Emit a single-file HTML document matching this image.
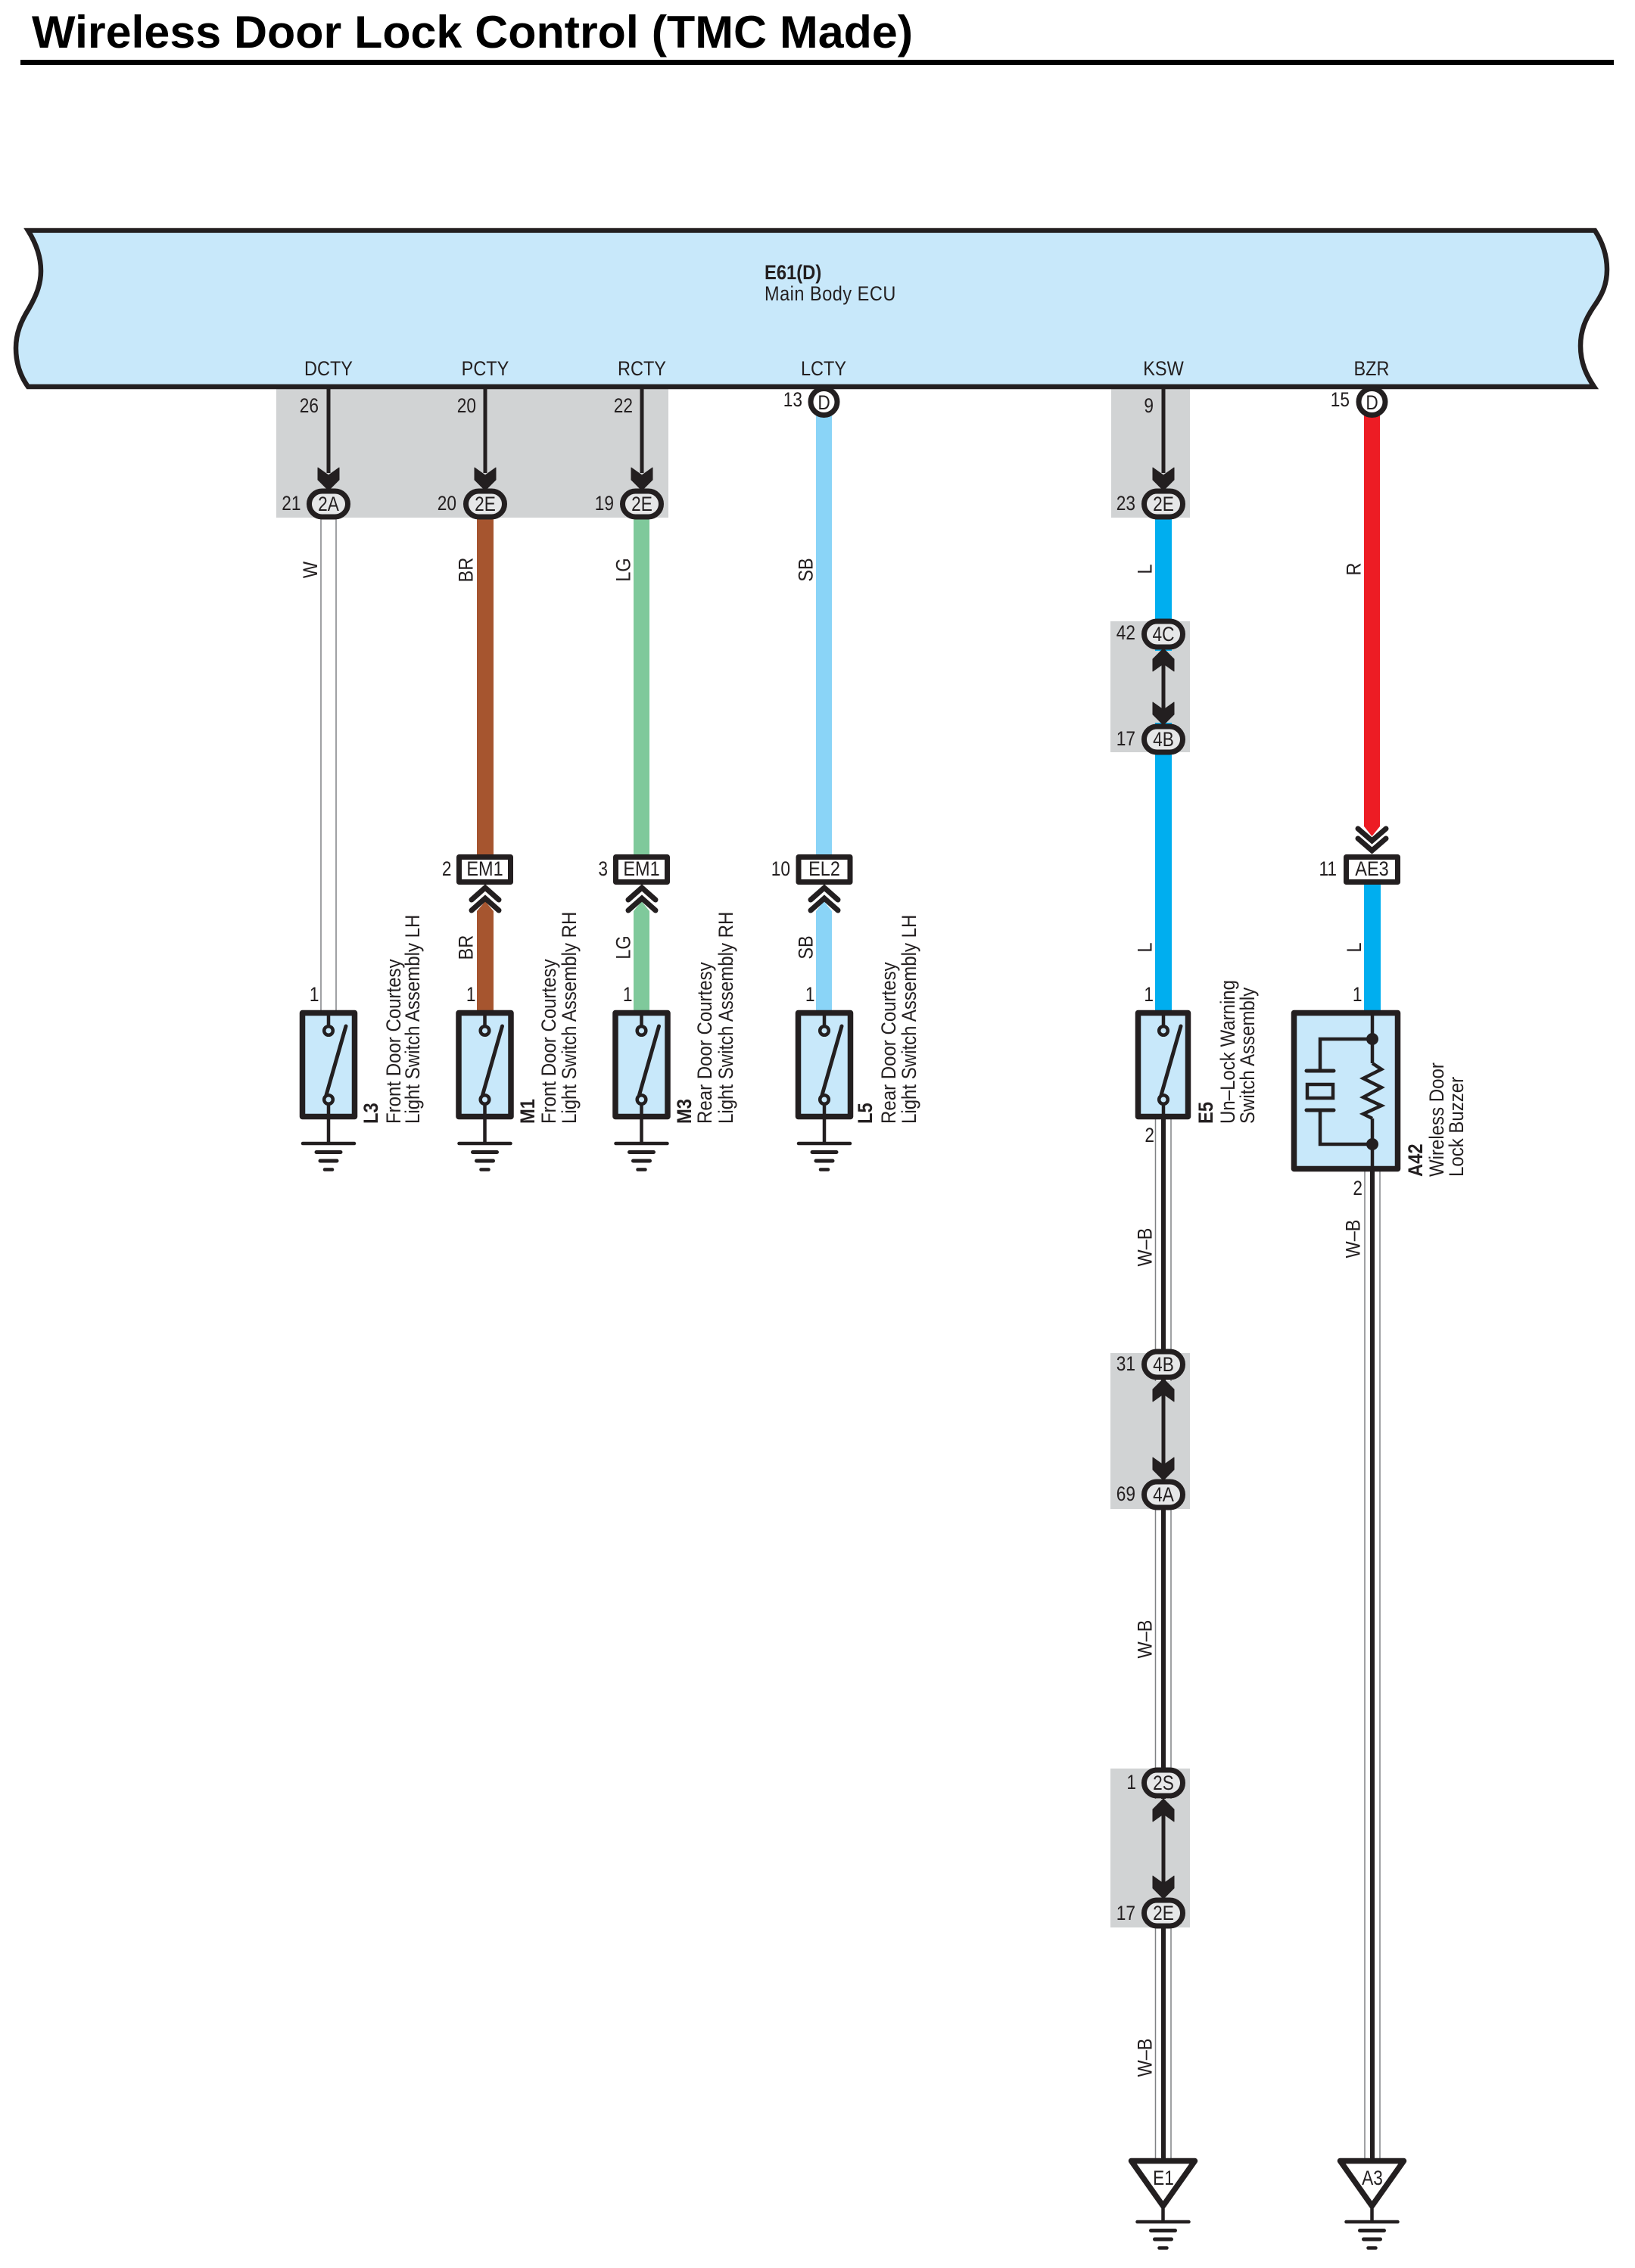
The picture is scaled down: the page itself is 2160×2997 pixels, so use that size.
<!DOCTYPE html>
<html><head><meta charset="utf-8"><title>Wireless Door Lock Control (TMC Made)</title>
<style>
html,body{margin:0;padding:0;background:#fff}
svg{display:block}
text{font-family:"Liberation Sans",Arial,sans-serif;font-size:27px;fill:#231f20}
.b{font-weight:bold}
.m{text-anchor:middle}
.e{text-anchor:end}
</style></head><body>
<svg xmlns="http://www.w3.org/2000/svg" width="2160" height="2997" viewBox="0 0 2160 2997">
<defs>
<g id="up"><polygon points="-14,30 0,20 14,30 14,14 0,0 -14,14" fill="#231f20" stroke="#231f20" stroke-width="1" stroke-linejoin="round"/></g>
<g id="dn"><polygon points="-14,-30 0,-20 14,-30 14,-14 0,0 -14,-14" fill="#231f20" stroke="#231f20" stroke-width="1" stroke-linejoin="round"/></g>
<rect id="ov" x="-25.5" y="-17" width="51" height="34" rx="17" ry="17" fill="#e6e7e8" stroke="#231f20" stroke-width="7"/>
<rect id="bx" x="-34" y="1132.5" width="68" height="33" fill="#fff" stroke="#231f20" stroke-width="7" stroke-linejoin="round"/>
<g id="chu" fill="none" stroke="#231f20" stroke-width="7" stroke-linecap="round" stroke-linejoin="miter"><polyline points="-18,1189 0,1173 18,1189"/><polyline points="-18,1203 0,1187 18,1203"/></g>
<g id="gnd" stroke="#231f20" stroke-linecap="round"><line x1="-34" x2="34" y1="0" y2="0" stroke-width="4.5"/><line x1="-16" x2="16" y1="11.5" y2="11.5" stroke-width="5"/><line x1="-11" x2="11" y1="23" y2="23" stroke-width="5"/><line x1="-5" x2="5" y1="34.5" y2="34.5" stroke-width="4.5"/></g>
<g id="sw">
<rect x="-34.5" y="1338.5" width="69" height="137" fill="#c8e8fa" stroke="#231f20" stroke-width="7.5" stroke-linejoin="round"/>
<line x1="0" x2="0" y1="1338" y2="1356" stroke="#231f20" stroke-width="4.5"/>
<line x1="0" x2="0" y1="1459" y2="1511" stroke="#231f20" stroke-width="4.5"/>
<circle cx="0" cy="1362" r="5.8" fill="#c8e8fa" stroke="#231f20" stroke-width="4.5"/>
<circle cx="0" cy="1453" r="5.8" fill="#c8e8fa" stroke="#231f20" stroke-width="4.5"/>
<line x1="-3" x2="23" y1="1447" y2="1356" stroke="#231f20" stroke-width="5" stroke-linecap="round"/>
</g>
</defs>
<rect width="2160" height="2997" fill="#fff"/>

<!-- title -->
<text class="b" x="42" y="63" style="font-size:60px;fill:#000" textLength="1164" lengthAdjust="spacingAndGlyphs">Wireless Door Lock Control (TMC Made)</text>
<rect x="27" y="79" width="2105" height="7" fill="#000"/>

<!-- gray splice regions -->
<g fill="#d1d3d4">
<rect x="365" y="511" width="518" height="173"/>
<rect x="1468" y="511" width="104" height="173"/>
<rect x="1467" y="821" width="105" height="173"/>
<rect x="1467" y="1788" width="105" height="206"/>
<rect x="1467" y="2337" width="105" height="210"/>
</g>

<!-- wires -->
<rect x="424" y="680" width="20" height="660" fill="#fff" stroke="#808285" stroke-width="1.5"/>
<rect x="630" y="680" width="22" height="453" fill="#a6552f"/>
<polygon points="630,1204 641,1191 652,1204 652,1340 630,1340" fill="#a6552f"/>
<rect x="837" y="680" width="21" height="453" fill="#7fc99b"/>
<polygon points="837,1204 847.5,1191 858,1204 858,1340 837,1340" fill="#7fc99b"/>
<rect x="1078" y="545" width="21" height="588" fill="#8ad4f7"/>
<polygon points="1078,1204 1088.5,1191 1099,1204 1099,1340 1078,1340" fill="#8ad4f7"/>
<rect x="1526" y="680" width="22" height="660" fill="#00aeef"/>
<polygon points="1802,545 1823,545 1823,1092 1812.5,1105 1802,1092" fill="#ed1c24"/>
<rect x="1802" y="1160" width="22" height="180" fill="#00aeef"/>

<g fill="#fff" stroke="#808285" stroke-width="1.5">
<rect x="1526.5" y="1475" width="20.5" height="1380"/>
<rect x="1803" y="1545" width="20" height="1310"/>
</g>
<rect x="1534" y="1475" width="6" height="1380" fill="#231f20"/>
<rect x="1810" y="1545" width="6" height="1310" fill="#231f20"/>
<!-- restore gray between ovals -->
<rect x="1467" y="860" width="105" height="95" fill="#d1d3d4"/>
<rect x="1467" y="1825" width="105" height="130" fill="#d1d3d4"/>
<rect x="1467" y="2377" width="105" height="131" fill="#d1d3d4"/>

<!-- ECU -->
<path d="M37 304.5 C48 322 54 340 54 358 C54 378 46 394 38 408 C28 424 21 440 21 460 C21 480 27 497 37 511 L2106 511 C2096 496 2088 480 2088 457 C2088 436 2095 421 2105 406 C2115 392 2123 378 2123 356 C2123 338 2117 320 2107 304.5 Z" fill="#c8e8fa" stroke="#231f20" stroke-width="6.5" stroke-linejoin="miter"/>
<text class="b" transform="translate(1010 369) scale(.88 1)">E61(D)</text>
<text transform="translate(1010 397) scale(.87 1)" style="letter-spacing:.6px">Main Body ECU</text>
<g class="m">
<text class="m" transform="translate(434 496) scale(.87 1)">DCTY</text>
<text class="m" transform="translate(641 496) scale(.87 1)">PCTY</text>
<text class="m" transform="translate(848 496) scale(.87 1)">RCTY</text>
<text class="m" transform="translate(1088 496) scale(.87 1)">LCTY</text>
<text class="m" transform="translate(1537 496) scale(.87 1)">KSW</text>
<text class="m" transform="translate(1812 496) scale(.87 1)">BZR</text>
</g>

<!-- vertical lines with arrows -->
<g stroke="#231f20" stroke-width="5">
<line x1="434" x2="434" y1="514" y2="625"/>
<line x1="641" x2="641" y1="514" y2="625"/>
<line x1="848" x2="848" y1="514" y2="625"/>
<line x1="1537" x2="1537" y1="514" y2="625"/>
<line x1="1537" x2="1537" y1="870" y2="945"/>
<line x1="1537" x2="1537" y1="1830" y2="1945"/>
<line x1="1537" x2="1537" y1="2385" y2="2495"/>
</g>
<use href="#dn" x="434" y="648"/>
<use href="#dn" x="641" y="648"/>
<use href="#dn" x="848" y="648"/>
<use href="#dn" x="1537" y="648"/>
<use href="#up" x="1537" y="857"/>
<use href="#dn" x="1537" y="958"/>
<use href="#up" x="1537" y="1822"/>
<use href="#dn" x="1537" y="1956"/>
<use href="#up" x="1537" y="2377"/>
<use href="#dn" x="1537" y="2509"/>

<!-- ovals -->
<use href="#ov" x="434" y="666"/>
<use href="#ov" x="641" y="666"/>
<use href="#ov" x="848" y="666"/>
<use href="#ov" x="1537" y="666"/>
<use href="#ov" x="1537" y="838"/>
<use href="#ov" x="1537" y="977"/>
<use href="#ov" x="1537" y="1803"/>
<use href="#ov" x="1537" y="1975"/>
<use href="#ov" x="1537" y="2356"/>
<use href="#ov" x="1537" y="2528"/>
<text class="m" transform="translate(434 675) scale(.84 1)">2A</text>
<text class="m" transform="translate(641 675) scale(.84 1)">2E</text>
<text class="m" transform="translate(848 675) scale(.84 1)">2E</text>
<text class="m" transform="translate(1537 675) scale(.84 1)">2E</text>
<text class="m" transform="translate(1537 847) scale(.84 1)">4C</text>
<text class="m" transform="translate(1537 986) scale(.84 1)">4B</text>
<text class="m" transform="translate(1537 1812) scale(.84 1)">4B</text>
<text class="m" transform="translate(1537 1984) scale(.84 1)">4A</text>
<text class="m" transform="translate(1537 2365) scale(.84 1)">2S</text>
<text class="m" transform="translate(1537 2537) scale(.84 1)">2E</text>

<!-- D circles -->
<circle cx="1088.5" cy="531" r="17.5" fill="#fff" stroke="#231f20" stroke-width="7"/>
<circle cx="1812.5" cy="531" r="17.5" fill="#fff" stroke="#231f20" stroke-width="7"/>
<text class="m" transform="translate(1088.5 541) scale(.84 1)">D</text>
<text class="m" transform="translate(1812.5 541) scale(.84 1)">D</text>

<!-- pin numbers -->
<text class="e" transform="translate(421 545) scale(.84 1)">26</text>
<text class="e" transform="translate(629 545) scale(.84 1)">20</text>
<text class="e" transform="translate(836 545) scale(.84 1)">22</text>
<text class="e" transform="translate(1060 537) scale(.84 1)">13</text>
<text class="e" transform="translate(1524 545) scale(.84 1)">9</text>
<text class="e" transform="translate(1783 537) scale(.84 1)">15</text>
<text class="e" transform="translate(397.5 674) scale(.84 1)">21</text>
<text class="e" transform="translate(603 674) scale(.84 1)">20</text>
<text class="e" transform="translate(811 674) scale(.84 1)">19</text>
<text class="e" transform="translate(1500 674) scale(.84 1)">23</text>
<text class="e" transform="translate(1500 845) scale(.84 1)">42</text>
<text class="e" transform="translate(1500 985) scale(.84 1)">17</text>
<text class="e" transform="translate(1500 1811) scale(.84 1)">31</text>
<text class="e" transform="translate(1500 1983) scale(.84 1)">69</text>
<text class="e" transform="translate(1501 2364) scale(.84 1)">1</text>
<text class="e" transform="translate(1500 2537) scale(.84 1)">17</text>

<!-- connector boxes -->
<use href="#bx" x="640.5"/>
<use href="#bx" x="847.5"/>
<use href="#bx" x="1089"/>
<rect x="1778.5" y="1132.5" width="68" height="33" fill="#fff" stroke="#231f20" stroke-width="7" stroke-linejoin="round"/>
<use href="#chu" x="641"/>
<use href="#chu" x="848"/>
<use href="#chu" x="1089"/>
<g fill="none" stroke="#231f20" stroke-width="7" stroke-linecap="round">
<polyline points="1794,1108 1812.5,1124 1831,1108"/>
<polyline points="1794,1095 1812.5,1111 1831,1095"/>
</g>
<text class="m" transform="translate(640.5 1157) scale(.87 1)">EM1</text>
<text class="m" transform="translate(847.5 1157) scale(.87 1)">EM1</text>
<text class="m" transform="translate(1089 1157) scale(.87 1)">EL2</text>
<text class="m" transform="translate(1812.5 1157) scale(.87 1)">AE3</text>
<text class="e" transform="translate(596.5 1157) scale(.84 1)">2</text>
<text class="e" transform="translate(803 1157) scale(.84 1)">3</text>
<text class="e" transform="translate(1044 1157) scale(.84 1)">10</text>
<text class="e" transform="translate(1766 1157) scale(.84 1)">11</text>

<!-- switches -->
<use href="#sw" x="434"/>
<use href="#sw" x="640.5"/>
<use href="#sw" x="847.5"/>
<use href="#sw" x="1089"/>
<use href="#gnd" x="434" y="1511"/>
<use href="#gnd" x="640.5" y="1511"/>
<use href="#gnd" x="847.5" y="1511"/>
<use href="#gnd" x="1089" y="1511"/>
<!-- E5 switch -->
<rect x="1503.5" y="1338.5" width="66" height="137" fill="#c8e8fa" stroke="#231f20" stroke-width="7.5" stroke-linejoin="round"/>
<line x1="1537" x2="1537" y1="1338" y2="1356" stroke="#231f20" stroke-width="4.5"/>
<line x1="1537" x2="1537" y1="1459" y2="1480" stroke="#231f20" stroke-width="4.5"/>
<circle cx="1537" cy="1362" r="5.8" fill="#c8e8fa" stroke="#231f20" stroke-width="4.5"/>
<circle cx="1537" cy="1453" r="5.8" fill="#c8e8fa" stroke="#231f20" stroke-width="4.5"/>
<line x1="1534" x2="1560" y1="1447" y2="1356" stroke="#231f20" stroke-width="5" stroke-linecap="round"/>

<!-- buzzer -->
<rect x="1709.5" y="1338.5" width="137" height="206" fill="#c8e8fa" stroke="#231f20" stroke-width="7.5" stroke-linejoin="round"/>
<g fill="none" stroke="#231f20" stroke-width="4.5">
<line x1="1813" x2="1813" y1="1338" y2="1405"/>
<polyline points="1813,1405 1825,1413 1801,1425 1825,1437 1801,1450 1825,1461 1801,1472 1813,1478"/>
<line x1="1813" x2="1813" y1="1478" y2="1545"/>
<polyline points="1813,1373 1744,1373 1744,1415"/>
<polyline points="1813,1512 1744,1512 1744,1467"/>
<rect x="1727" y="1433" width="34" height="18"/>
<line x1="1726" x2="1762" y1="1415" y2="1415" stroke-width="5" stroke-linecap="round"/>
<line x1="1726" x2="1762" y1="1467" y2="1467" stroke-width="5" stroke-linecap="round"/>
</g>
<ellipse cx="1813" cy="1373" rx="8" ry="8" fill="#231f20"/>
<ellipse cx="1813" cy="1512" rx="8" ry="8" fill="#231f20"/>

<!-- pin 1/2 -->
<text class="e" transform="translate(421.5 1323) scale(.84 1)">1</text>
<text class="e" transform="translate(628.5 1323) scale(.84 1)">1</text>
<text class="e" transform="translate(835.5 1323) scale(.84 1)">1</text>
<text class="e" transform="translate(1076.5 1323) scale(.84 1)">1</text>
<text class="e" transform="translate(1524 1323) scale(.84 1)">1</text>
<text class="e" transform="translate(1799.5 1323) scale(.84 1)">1</text>
<text class="e" transform="translate(1525 1509) scale(.84 1)">2</text>
<text class="e" transform="translate(1800 1579) scale(.84 1)">2</text>

<!-- wire color labels -->
<text class="m" transform="translate(419 753) rotate(-90) scale(.87 1)">W</text>
<text class="m" transform="translate(624.5 753) rotate(-90) scale(.87 1)">BR</text>
<text class="m" transform="translate(832.5 753) rotate(-90) scale(.87 1)">LG</text>
<text class="m" transform="translate(1073.5 753) rotate(-90) scale(.87 1)">SB</text>
<text class="m" transform="translate(1521.5 752) rotate(-90) scale(.87 1)">L</text>
<text class="m" transform="translate(1797.5 752) rotate(-90) scale(.87 1)">R</text>
<text class="m" transform="translate(624.5 1252) rotate(-90) scale(.87 1)">BR</text>
<text class="m" transform="translate(832.5 1252) rotate(-90) scale(.87 1)">LG</text>
<text class="m" transform="translate(1073.5 1252) rotate(-90) scale(.87 1)">SB</text>
<text class="m" transform="translate(1521.5 1252) rotate(-90) scale(.87 1)">L</text>
<text class="m" transform="translate(1798 1252) rotate(-90) scale(.87 1)">L</text>
<text class="m" transform="translate(1521.5 1648) rotate(-90) scale(.87 1)">W–B</text>
<text class="m" transform="translate(1521.5 2166) rotate(-90) scale(.87 1)">W–B</text>
<text class="m" transform="translate(1521.5 2719) rotate(-90) scale(.87 1)">W–B</text>
<text class="m" transform="translate(1796.5 1637) rotate(-90) scale(.87 1)">W–B</text>

<!-- component labels -->
<text class="b" transform="translate(499 1485) rotate(-90) scale(.88 1)">L3</text>
<text transform="translate(529 1485) rotate(-90) scale(.89 1)">Front Door Courtesy</text>
<text transform="translate(554 1485) rotate(-90) scale(.89 1)">Light Switch Assembly LH</text>
<text class="b" transform="translate(706 1485) rotate(-90) scale(.88 1)">M1</text>
<text transform="translate(734 1485) rotate(-90) scale(.89 1)">Front Door Courtesy</text>
<text transform="translate(761 1485) rotate(-90) scale(.89 1)">Light Switch Assembly RH</text>
<text class="b" transform="translate(913 1485) rotate(-90) scale(.88 1)">M3</text>
<text transform="translate(940 1485) rotate(-90) scale(.89 1)">Rear Door Courtesy</text>
<text transform="translate(968 1485) rotate(-90) scale(.89 1)">Light Switch Assembly RH</text>
<text class="b" transform="translate(1152 1485) rotate(-90) scale(.88 1)">L5</text>
<text transform="translate(1183 1485) rotate(-90) scale(.89 1)">Rear Door Courtesy</text>
<text transform="translate(1210 1485) rotate(-90) scale(.89 1)">Light Switch Assembly LH</text>
<text class="b" transform="translate(1602 1485) rotate(-90) scale(.88 1)">E5</text>
<text transform="translate(1631 1485) rotate(-90) scale(.89 1)">Un–Lock Warning</text>
<text transform="translate(1657 1485) rotate(-90) scale(.89 1)">Switch Assembly</text>
<text class="b" transform="translate(1879 1555) rotate(-90) scale(.88 1)">A42</text>
<text transform="translate(1907 1555) rotate(-90) scale(.89 1)">Wireless Door</text>
<text transform="translate(1933 1555) rotate(-90) scale(.89 1)">Lock Buzzer</text>

<!-- bottom triangles -->
<polygon points="1494.5,2855.5 1578.5,2855.5 1536.5,2915" fill="#fff" stroke="#231f20" stroke-width="7.5" stroke-linejoin="round"/>
<polygon points="1770.5,2855.5 1854.5,2855.5 1812.5,2915" fill="#fff" stroke="#231f20" stroke-width="7.5" stroke-linejoin="round"/>
<line x1="1536.5" x2="1536.5" y1="2915" y2="2936" stroke="#231f20" stroke-width="4.5"/>
<line x1="1812.5" x2="1812.5" y1="2915" y2="2936" stroke="#231f20" stroke-width="4.5"/>
<use href="#gnd" x="1536.5" y="2936"/>
<use href="#gnd" x="1812.5" y="2936"/>
<text class="m" transform="translate(1537 2887) scale(.84 1)">E1</text>
<text class="m" transform="translate(1813 2887) scale(.84 1)">A3</text>
</svg>
</body></html>
